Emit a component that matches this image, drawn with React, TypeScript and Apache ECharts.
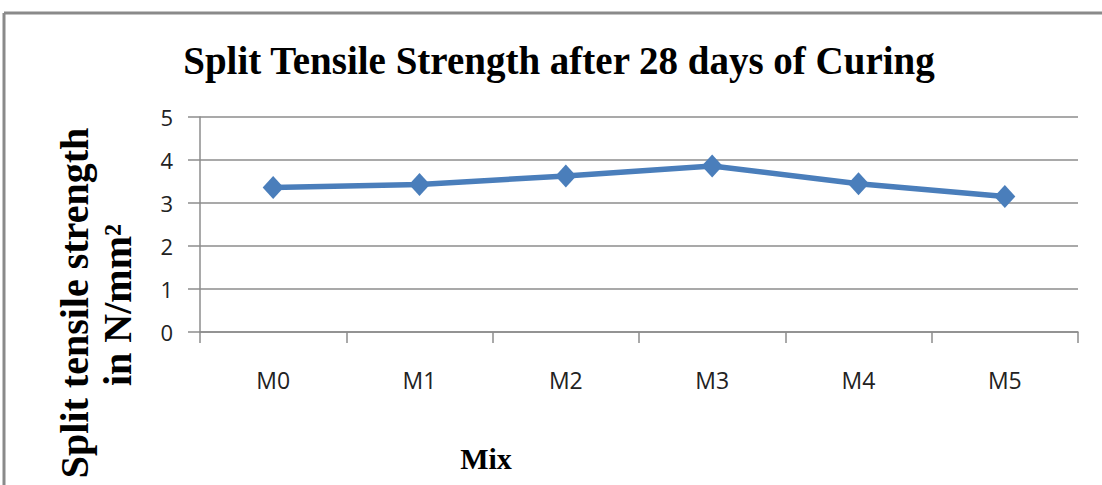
import React, { useEffect, useRef } from "react";
import * as echarts from "echarts";

const categories = ["M0", "M1", "M2", "M3", "M4", "M5"];
const strengthValues = [3.36, 3.43, 3.63, 3.86, 3.45, 3.15];
const yTicks = [0, 1, 2, 3, 4, 5];

export default function App() {
  const ref = useRef<HTMLDivElement>(null);
  useEffect(() => {
    if (!ref.current) return;
    const chart = echarts.init(ref.current, null, { renderer: "svg" });
    const serif = "'Liberation Serif', 'Times New Roman', serif";
    const sans = "'Open Sans', 'Liberation Sans', sans-serif";
    chart.setOption({
      animation: false,
      backgroundColor: "#ffffff",
      grid: { left: 200, top: 117, width: 878, height: 215, containLabel: false },
      xAxis: {
        type: "category",
        data: categories,
        boundaryGap: true,
        axisLine: { show: true, lineStyle: { color: "#8c8c8c", width: 1.5 } },
        axisTick: { show: true, length: 11, interval: 0, lineStyle: { color: "#8c8c8c", width: 1.5 } },
        axisLabel: { margin: 36, fontSize: 23, color: "#222", fontFamily: sans },
        splitLine: { show: false },
      },
      yAxis: {
        type: "value",
        min: yTicks[0],
        max: yTicks[yTicks.length - 1],
        interval: 1,
        axisLine: { show: true, lineStyle: { color: "#8c8c8c", width: 1.5 } },
        axisTick: { show: true, length: 12, lineStyle: { color: "#8c8c8c", width: 1.5 } },
        axisLabel: { margin: 27, fontSize: 22, color: "#222", fontFamily: sans },
        splitLine: { show: true, lineStyle: { color: "#8c8c8c", width: 1.5 } },
      },
      series: [
        {
          type: "line",
          data: strengthValues,
          symbol: "diamond",
          symbolSize: [21, 23],
          itemStyle: { color: "#4a7ebb" },
          lineStyle: { color: "#4a7ebb", width: 5.5 },
        },
      ],
      graphic: [
        { type: "line", shape: { x1: 4, y1: 13, x2: 1102, y2: 13 }, style: { stroke: "#8a8a8a", lineWidth: 3 } },
        { type: "line", shape: { x1: 4, y1: 13, x2: 4, y2: 485 }, style: { stroke: "#8a8a8a", lineWidth: 3 } },
        {
          type: "text",
          x: 559,
          y: 60,
          style: {
            text: "Split Tensile Strength after 28 days of Curing",
            font: `bold 39px ${serif}`,
            fill: "#000",
            align: "center",
            verticalAlign: "middle",
          },
        },
        {
          type: "text",
          x: 74,
          y: 303,
          rotation: Math.PI / 2,
          style: {
            text: "Split tensile strength",
            font: `bold 40px ${serif}`,
            fill: "#000",
            align: "center",
            verticalAlign: "middle",
          },
        },
        {
          type: "text",
          x: 117,
          y: 305,
          rotation: Math.PI / 2,
          style: {
            text: "in N/mm²",
            font: `bold 40px ${serif}`,
            fill: "#000",
            align: "center",
            verticalAlign: "middle",
          },
        },
        {
          type: "text",
          x: 486,
          y: 458,
          style: {
            text: "Mix",
            font: `bold 30px ${serif}`,
            fill: "#000",
            align: "center",
            verticalAlign: "middle",
          },
        },
      ],
    });
    return () => chart.dispose();
  }, []);
  return (
    <div
      ref={ref}
      style={{ position: "fixed", left: 0, top: 0, width: 1102, height: 485, background: "#fff" }}
    />
  );
}
